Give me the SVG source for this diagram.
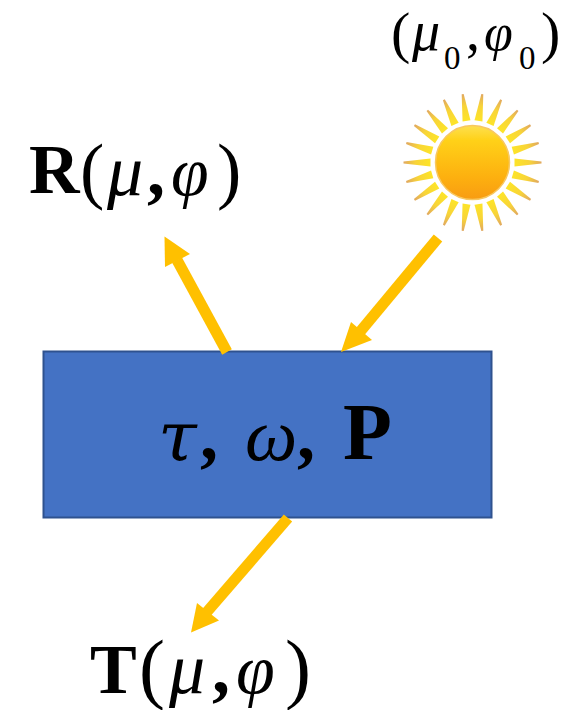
<svg xmlns="http://www.w3.org/2000/svg" width="566" height="710" viewBox="0 0 566 710">
<style>
text{font-family:"Liberation Serif","Times New Roman",serif;fill:#000}
.b{font-weight:bold;font-size:70px}
.c{font-weight:bold;font-size:72px}
.i{font-style:italic;font-size:72px}
.sb{font-size:33px}
.si{font-style:italic;font-size:56px}
.a{stroke:#ffc000;stroke-width:11;fill:none}
.h{fill:#ffc000}
</style>
<defs>
<linearGradient id="ball" x1="0" y1="0" x2="0" y2="1">
<stop offset="0" stop-color="#fde050"/><stop offset=".2" stop-color="#ffd118"/><stop offset=".7" stop-color="#fdb00f"/><stop offset="1" stop-color="#f89c12"/>
</linearGradient>
<linearGradient id="ray" gradientUnits="userSpaceOnUse" x1="42" y1="0" x2="69" y2="0">
<stop offset="0" stop-color="#fde428"/><stop offset=".55" stop-color="#f8d438"/><stop offset="1" stop-color="#e0a860"/>
</linearGradient>
<polygon id="rp" points="42,-4 69,-1 69,1 42,4" fill="url(#ray)"/>
</defs>
<g id="sun" transform="translate(472.5 162.5)">
<use href="#rp"/><use href="#rp" transform="rotate(16.36)"/><use href="#rp" transform="rotate(32.73)"/><use href="#rp" transform="rotate(49.09)"/><use href="#rp" transform="rotate(65.45)"/><use href="#rp" transform="rotate(81.82)"/><use href="#rp" transform="rotate(98.18)"/><use href="#rp" transform="rotate(114.55)"/><use href="#rp" transform="rotate(130.91)"/><use href="#rp" transform="rotate(147.27)"/><use href="#rp" transform="rotate(163.64)"/><use href="#rp" transform="rotate(180)"/><use href="#rp" transform="rotate(196.36)"/><use href="#rp" transform="rotate(212.73)"/><use href="#rp" transform="rotate(229.09)"/><use href="#rp" transform="rotate(245.45)"/><use href="#rp" transform="rotate(261.82)"/><use href="#rp" transform="rotate(278.18)"/><use href="#rp" transform="rotate(294.55)"/><use href="#rp" transform="rotate(310.91)"/><use href="#rp" transform="rotate(327.27)"/><use href="#rp" transform="rotate(343.64)"/>
<circle r="37" fill="url(#ball)" stroke="#f8c860" stroke-width="1.5"/>
</g>
<g id="slab">
<rect x="43.500" y="351.500" width="448" height="166" fill="#4472c4" stroke="#2f528f" stroke-width="2"/>
<text x="158" y="460" style="font-family:'DejaVu Serif',serif;font-style:italic;font-size:70px">τ</text>
<text x="200" y="459" class="c">,</text>
<text x="245" y="460" style="font-style:italic;font-size:74px">ω</text>
<text x="297" y="459" class="c">,</text>
<text x="343" y="459" style="font-weight:bold;font-size:80px">P</text>
</g>
<g id="connectors">
<line class="a" x1="227" y1="352" x2="177" y2="260"/>
<polygon class="h" points="164.500,236.500 190,254 165,267"/>
<line class="a" x1="438" y1="238" x2="359" y2="333"/>
<polygon class="h" points="341,352 351,322 372,340"/>
<line class="a" x1="288" y1="518" x2="206" y2="613"/>
<polygon class="h" points="191,632.500 197,603 219,620.500"/>
</g>
<g id="label-r">
<text x="29" y="193" class="b">R</text>
<text x="80" y="195" style="font-size:73px">(</text>
<text x="107" y="195" class="i">μ</text>
<text x="147" y="195" class="c">,</text>
<text x="171" y="195" style="font-style:italic;font-size:68px">φ</text>
<text x="217" y="195" style="font-size:73px">)</text>
</g>
<g id="label-t">
<text x="90" y="693" class="b">T</text>
<text x="139" y="694" style="font-size:78px">(</text>
<text x="169" y="693" class="i">μ</text>
<text x="212" y="693" class="c">,</text>
<text x="236" y="693" style="font-style:italic;font-size:70px">φ</text>
<text x="285" y="694" style="font-size:78px">)</text>
</g>
<g id="label-sun">
<text x="391" y="52" style="font-size:58px">(</text>
<text x="412" y="50" class="si">μ</text>
<text x="444" y="69" class="sb">0</text>
<text x="466" y="50" style="font-size:56px">,</text>
<text x="484" y="50" style="font-style:italic;font-size:52px">φ</text>
<text x="519" y="69" class="sb">0</text>
<text x="541" y="52" style="font-size:58px">)</text>
</g>
</svg>
